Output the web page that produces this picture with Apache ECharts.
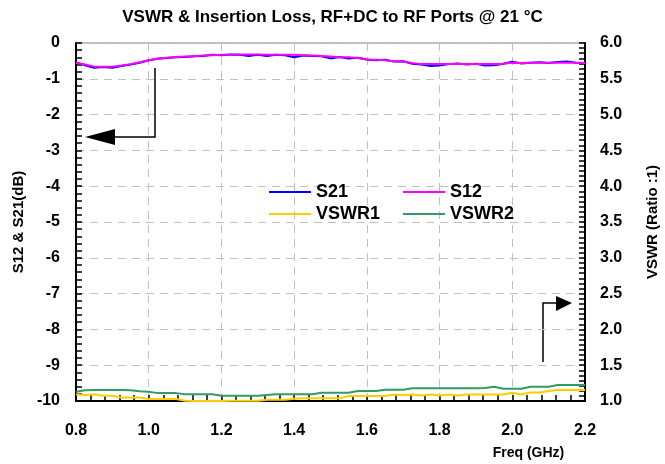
<!DOCTYPE html>
<html>
<head>
<meta charset="utf-8">
<script src="https://cdn.jsdelivr.net/npm/echarts@6/dist/echarts.min.js"></script>
<style>
  html, body { margin: 0; padding: 0; background: #fff; }
  #chart { width: 665px; height: 464px; }
</style>
</head>
<body>
<div id="chart"></div>
<script>
const freq = [0.800,0.825,0.850,0.875,0.900,0.925,0.950,0.975,1.000,1.025,1.050,1.075,1.100,1.125,1.150,1.175,1.200,1.225,1.250,1.275,1.300,1.325,1.350,1.375,1.400,1.425,1.450,1.475,1.500,1.525,1.550,1.575,1.600,1.625,1.650,1.675,1.700,1.725,1.750,1.775,1.800,1.825,1.850,1.875,1.900,1.925,1.950,1.975,2.000,2.025,2.050,2.075,2.100,2.125,2.150,2.175,2.200];

const s21 = [-0.54,-0.62,-0.69,-0.67,-0.69,-0.64,-0.60,-0.55,-0.48,-0.44,-0.42,-0.40,-0.39,-0.37,-0.36,-0.33,-0.34,-0.32,-0.33,-0.36,-0.33,-0.36,-0.33,-0.34,-0.40,-0.35,-0.36,-0.37,-0.43,-0.39,-0.43,-0.41,-0.46,-0.48,-0.47,-0.52,-0.51,-0.58,-0.60,-0.64,-0.63,-0.59,-0.57,-0.60,-0.58,-0.63,-0.62,-0.58,-0.52,-0.57,-0.55,-0.54,-0.56,-0.53,-0.52,-0.55,-0.57];

const s12 = [-0.55,-0.60,-0.66,-0.66,-0.66,-0.63,-0.59,-0.54,-0.48,-0.43,-0.41,-0.39,-0.38,-0.37,-0.35,-0.34,-0.33,-0.33,-0.32,-0.32,-0.32,-0.33,-0.33,-0.33,-0.33,-0.34,-0.35,-0.36,-0.38,-0.40,-0.40,-0.42,-0.46,-0.47,-0.48,-0.51,-0.52,-0.56,-0.59,-0.59,-0.59,-0.59,-0.59,-0.59,-0.59,-0.59,-0.59,-0.58,-0.55,-0.56,-0.55,-0.55,-0.55,-0.55,-0.55,-0.55,-0.56];

const vswr1 = [1.093,1.080,1.093,1.074,1.074,1.050,1.050,1.050,1.028,1.028,1.028,1.028,1.005,1.000,1.000,1.005,1.000,1.005,1.005,1.005,1.005,1.018,1.018,1.018,1.030,1.037,1.037,1.037,1.037,1.037,1.070,1.070,1.070,1.070,1.070,1.090,1.085,1.090,1.078,1.090,1.078,1.090,1.078,1.090,1.090,1.090,1.090,1.090,1.116,1.090,1.120,1.120,1.140,1.154,1.154,1.154,1.154];

const vswr2 = [1.130,1.150,1.155,1.155,1.155,1.155,1.150,1.135,1.130,1.110,1.110,1.110,1.093,1.093,1.093,1.093,1.074,1.074,1.074,1.074,1.074,1.085,1.093,1.093,1.093,1.093,1.095,1.115,1.116,1.116,1.116,1.140,1.140,1.140,1.158,1.158,1.158,1.177,1.177,1.177,1.177,1.177,1.177,1.177,1.177,1.180,1.200,1.170,1.170,1.170,1.200,1.200,1.200,1.223,1.223,1.223,1.223];

const pair = arr => freq.map((f, i) => [f, arr[i]]);

const FONT = 'Liberation Sans, Arial, sans-serif';
const chart = echarts.init(document.getElementById('chart'), null, { renderer: 'canvas' });

const legendBase = {
  orient: 'horizontal',
  padding: 0,
  icon: 'rect',
  itemWidth: 42,
  itemHeight: 2,
  itemGap: 5,
  textStyle: { fontFamily: FONT, fontWeight: 'bold', fontSize: 18, color: '#000', padding: [0, 0, 0, 0] },
  selectedMode: false
};

const splitDash = { show: true, lineStyle: { color: '#c0c0c0', type: [8, 6], width: 1 } };

chart.setOption({
  animation: false,
  backgroundColor: '#fff',
  title: {
    text: 'VSWR & Insertion Loss, RF+DC to RF Ports @ 21 °C',
    left: 'center',
    top: 4,
    textStyle: { fontFamily: FONT, fontWeight: 'bold', fontSize: 17, color: '#000' }
  },
  grid: { left: 76, right: 80, top: 43, bottom: 63, containLabel: false, outerBoundsMode: 'none', show: true, borderColor: '#808080', borderWidth: 1 },
  legend: [
    Object.assign({}, legendBase, { data: ['S21'], left: 269, top: 183 }),
    Object.assign({}, legendBase, { data: ['S12'], left: 403, top: 183 }),
    Object.assign({}, legendBase, { data: ['VSWR1'], left: 269, top: 205 }),
    Object.assign({}, legendBase, { data: ['VSWR2'], left: 403, top: 205 })
  ],
  xAxis: {
    type: 'value',
    min: 0.8, max: 2.2, interval: 0.2,
    name: 'Freq (GHz)',
    nameLocation: 'middle',
    nameGap: 45,
    nameTextStyle: { fontFamily: FONT, fontWeight: 'bold', fontSize: 14, color: '#000', padding: [0, 0, 0, 396] },
    axisLine: { show: true, onZero: false, lineStyle: { color: '#000', width: 2 } },
    axisTick: { show: true, inside: true, length: 6, lineStyle: { color: '#000', width: 1.5 } },
    minorTick: { show: true, splitNumber: 5, length: 6, lineStyle: { color: '#000', width: 1.5 } },
    axisLabel: { margin: 22, fontFamily: FONT, fontWeight: 'bold', fontSize: 16, color: '#000', formatter: v => v.toFixed(1) },
    splitLine: splitDash
  },
  yAxis: [
    {
      type: 'value',
      position: 'left',
      min: -10, max: 0, interval: 1,
      name: 'S12 & S21(dB)',
      nameLocation: 'middle',
      nameRotate: 90,
      nameGap: 40,
      nameTextStyle: { fontFamily: FONT, fontWeight: 'bold', fontSize: 15, color: '#000' },
      axisLine: { show: true, onZero: false, lineStyle: { color: '#000', width: 2 } },
      axisTick: { show: true, inside: true, length: 6, lineStyle: { color: '#000', width: 1.5 } },
      minorTick: { show: true, splitNumber: 5, length: 6, lineStyle: { color: '#000', width: 1.5 } },
      axisLabel: { margin: 16, fontFamily: FONT, fontWeight: 'bold', fontSize: 16, color: '#000' },
      splitLine: splitDash
    },
    {
      type: 'value',
      position: 'right',
      min: 1.0, max: 6.0, interval: 0.5,
      name: 'VSWR (Ratio :1)',
      nameLocation: 'middle',
      nameRotate: 90,
      nameGap: 60,
      nameTextStyle: { fontFamily: FONT, fontWeight: 'bold', fontSize: 15, color: '#000' },
      axisLine: { show: true, onZero: false, lineStyle: { color: '#000', width: 2 } },
      axisTick: { show: true, inside: true, length: 6, lineStyle: { color: '#000', width: 1.5 } },
      minorTick: { show: true, splitNumber: 7, length: 6, lineStyle: { color: '#000', width: 1.5 } },
      axisLabel: { margin: 15, fontFamily: FONT, fontWeight: 'bold', fontSize: 16, color: '#000', formatter: v => v.toFixed(1) },
      splitLine: { show: false }
    }
  ],
  series: [
    { name: 'S21', type: 'line', yAxisIndex: 0, data: pair(s21), symbol: 'none', color: '#0000ff', lineStyle: { color: '#0000ff', width: 2 } },
    { name: 'S12', type: 'line', yAxisIndex: 0, data: pair(s12), symbol: 'none', color: '#ff00ff', lineStyle: { color: '#ff00ff', width: 2 } },
    { name: 'VSWR1', type: 'line', yAxisIndex: 1, data: pair(vswr1), symbol: 'none', color: '#ffcc00', lineStyle: { color: '#ffcc00', width: 2 } },
    { name: 'VSWR2', type: 'line', yAxisIndex: 1, data: pair(vswr2), symbol: 'none', color: '#339966', lineStyle: { color: '#339966', width: 2 } }
  ],
  graphic: [
    { type: 'polyline', shape: { points: [[155, 68], [155, 137], [112, 137]] }, style: { stroke: '#000', lineWidth: 1.5, fill: null } },
    { type: 'polygon', shape: { points: [[85, 137], [115, 129], [115, 145]] }, style: { fill: '#000' } },
    { type: 'polyline', shape: { points: [[543, 362], [543, 303], [558, 303]] }, style: { stroke: '#000', lineWidth: 1.5, fill: null } },
    { type: 'polygon', shape: { points: [[572, 303], [556, 296], [556, 311]] }, style: { fill: '#000' } }
  ]
});
</script>
</body>
</html>
